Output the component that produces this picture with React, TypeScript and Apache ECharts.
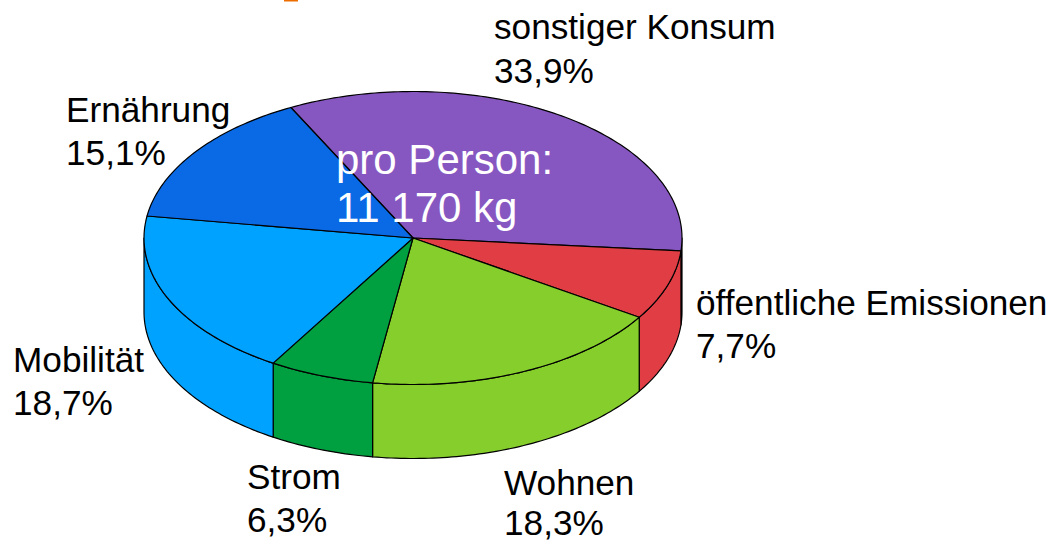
import React, { useEffect, useRef } from "react";
import * as echarts from "echarts";

const categories = ["sonstiger Konsum", "öffentliche Emissionen", "Wohnen", "Strom", "Mobilität", "Ernährung"];
const shares = [33.9, 7.7, 18.3, 6.3, 18.7, 15.1];
const shareLabels = ["33,9%", "7,7%", "18,3%", "6,3%", "18,7%", "15,1%"];
const colors = ["#8757C1", "#E03E44", "#86CE2B", "#009F3F", "#00A2FF", "#0A6AE6"];
const labelPos = [[494, 26, 70], [696, 302, 345], [504, 482, 522], [247, 476, 519], [13, 359, 402], [66, 109, 152]];
const centerLines = "pro Person:\n11 170 kg";

const CX = 413, CY = 238, RX = 269, RY = 146.5, DEPTH = 74, START = -27;
const total = shares.reduce((a, b) => a + b, 0);

const pt = (deg: number, dy = 0) => {
  const r = (deg * Math.PI) / 180;
  return [CX + RX * Math.sin(r), CY - RY * Math.cos(r) + dy];
};
const arc = (from: number, to: number, dy = 0) => {
  const out: number[][] = [];
  const n = Math.max(2, Math.ceil(Math.abs(to - from)));
  for (let i = 0; i <= n; i++) out.push(pt(from + ((to - from) * i) / n, dy));
  return out;
};

export default function App() {
  const ref = useRef<HTMLDivElement>(null);
  useEffect(() => {
    const chart = echarts.init(ref.current!, null, { renderer: "svg" });
    const angles: number[] = [START];
    shares.forEach((v) => angles.push(angles[angles.length - 1] + (v / total) * 360));
    const border = { stroke: "#000", lineWidth: 1.2, lineJoin: "round" };
    const wallItem = (_: any, api: any) => {
      const i = api.value(1);
      const a = Math.max(angles[i], 90), b = Math.min(angles[i + 1], 270);
      if (a >= b) return { type: "group", children: [] };
      return {
        type: "polygon",
        shape: { points: [...arc(a, b), ...arc(b, a, DEPTH)] },
        style: { fill: colors[i], ...border },
      };
    };
    const topItem = (_: any, api: any) => {
      const i = api.value(1);
      return {
        type: "polygon",
        shape: { points: [[CX, CY], ...arc(angles[i], angles[i + 1])] },
        style: { fill: colors[i], ...border },
      };
    };
    const data = shares.map((v, i) => [v, i]);
    const font = "Liberation Sans, Arial, sans-serif";
    const line = (text: string, x: number, y: number) => ({
      type: "text",
      z: 10,
      x,
      y,
      style: { text, fontSize: 35.2, fontFamily: font, fill: "#000", verticalAlign: "middle" },
    });
    chart.setOption({
      animation: false,
      backgroundColor: "#fff",
      series: [
        { type: "custom", coordinateSystem: "none", silent: true, renderItem: wallItem, data, z: 1 },
        { type: "custom", coordinateSystem: "none", silent: true, renderItem: topItem, data, z: 2 },
      ],
      graphic: [
        { type: "rect", z: 5, shape: { x: 284, y: 0, width: 14, height: 1.5 }, style: { fill: "#ED6D00" } },
        ...categories.flatMap((c, i) => [
          line(c, labelPos[i][0], labelPos[i][1]),
          line(shareLabels[i], labelPos[i][0], labelPos[i][2]),
        ]),
        {
          type: "text",
          z: 10,
          x: 336,
          y: 135,
          style: { text: centerLines, fontSize: 42, lineHeight: 48, fontFamily: font, fill: "#fff" },
        },
      ],
    });
    return () => chart.dispose();
  }, []);
  return <div ref={ref} style={{ position: "fixed", left: 0, top: 0, width: 1062, height: 543 }} />;
}
